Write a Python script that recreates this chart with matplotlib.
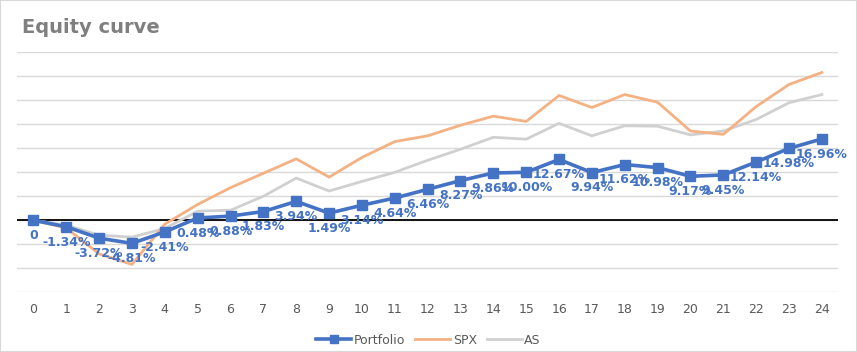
import matplotlib.pyplot as plt
from matplotlib.patches import Rectangle

# Curvas de equity: cartera frente a SPX y AS (en %)
months = list(range(25))
portfolio = [0, -1.34, -3.72, -4.81, -2.41, 0.48, 0.88, 1.83, 3.94, 1.49, 3.14, 4.64, 6.46,
             8.27, 9.86, 10.00, 12.67, 9.94, 11.62, 10.98, 9.17, 9.45, 12.14, 14.98, 16.96]
spx = [0, -1.6, -7.0, -9.2, -0.8, 3.3, 6.8, 9.8, 12.8, 9.0, 13.1, 16.4, 17.6,
       19.8, 21.7, 20.6, 26.0, 23.5, 26.2, 24.6, 18.6, 17.9, 23.7, 28.3, 30.8]
as_idx = [0, -1.0, -3.1, -3.5, -1.7, 1.9, 2.1, 5.0, 8.8, 6.1, 8.1, 10.0, 12.5,
          14.8, 17.3, 16.9, 20.2, 17.6, 19.7, 19.6, 17.8, 18.6, 21.0, 24.5, 26.2]
labels = ['0'] + [f'{v:.2f}%' for v in portfolio[1:]]

fig = plt.figure(figsize=(8.57, 3.52), dpi=100)
fig.patches.append(Rectangle((0, 0), 1, 1, transform=fig.transFigure, fill=False,
                             edgecolor='#D9D9D9', linewidth=1.5))
ax = fig.add_axes([0.0198, 0.1696, 0.9584, 0.6818])

ax.plot(months, as_idx, color='#D0D0D0', linewidth=2, label='AS', zorder=2)
ax.plot(months, spx, color='#F4B183', linewidth=2, label='SPX', zorder=3)
ax.plot(months, portfolio, color='#4472C4', linewidth=2.6, marker='s', markersize=6.5,
        label='Portfolio', zorder=4)

for x, y, t in zip(months, portfolio, labels):
    ax.annotate(t, (x, y), xytext=(0, -11), textcoords='offset points', ha='center',
                va='center', color='#4472C4', fontsize=9, fontweight='bold', zorder=5)

ax.set_xlim(-0.5, 24.5)
ax.set_ylim(-15, 35)
ax.set_yticks(range(-15, 36, 5))
ax.set_yticklabels([])
ax.set_xticks(months)
ax.tick_params(axis='x', colors='#595959', labelsize=9, length=0, pad=8)
ax.tick_params(axis='y', length=0)
ax.grid(axis='y', color='#D9D9D9', linewidth=1)
ax.set_axisbelow(True)
ax.axhline(0, color='black', linewidth=1.3, zorder=1.5)
for s in ax.spines.values():
    s.set_visible(False)

fig.text(0.026, 0.923, 'Equity curve', fontsize=14, fontweight='bold', color='#7F7F7F',
         va='center')

h, l = ax.get_legend_handles_labels()
fig.legend(h[::-1], l[::-1], loc='center', bbox_to_anchor=(0.5, 0.034), ncol=3, frameon=False,
           fontsize=9, labelcolor='#595959', handlelength=2.8, columnspacing=0.8,
           handletextpad=0.2, markerscale=0.8)

plt.savefig('out.png', dpi=100)
plt.close()
